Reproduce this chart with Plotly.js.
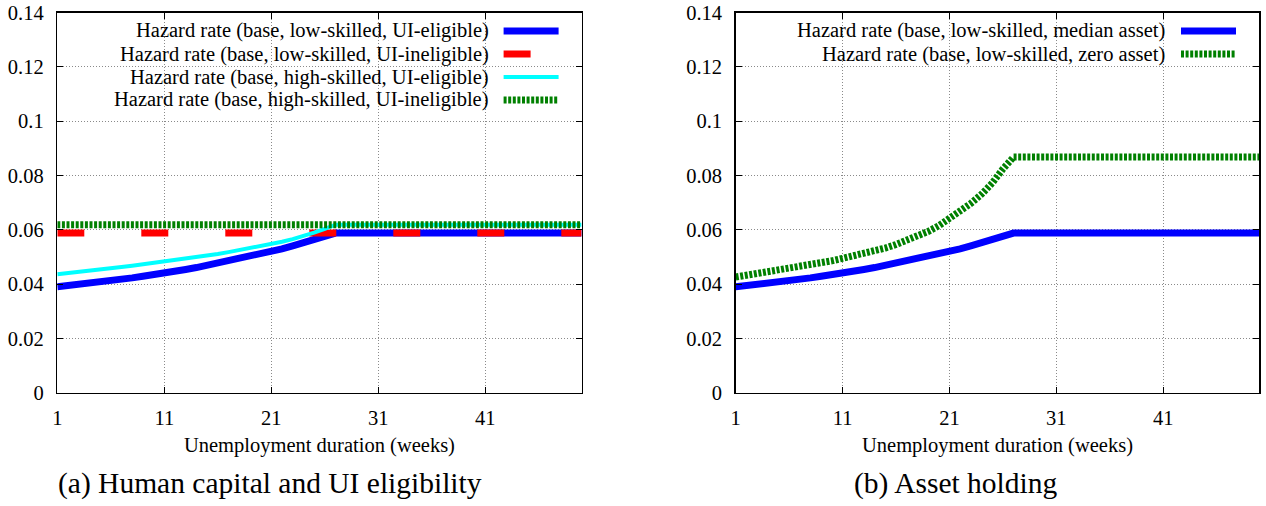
<!DOCTYPE html>
<html>
<head>
<meta charset="utf-8">
<script src="https://cdn.plot.ly/plotly-3.0.1.min.js"></script>
<style>
  html, body { margin: 0; padding: 0; background: #fff; }
  #chart { width: 1266px; height: 506px; }
  #chart text { font-family: "Liberation Serif", "Times New Roman", Times, serif !important; }
</style>
</head>
<body>
<div id="chart"></div>
<script>
// ---- data ----
const weeks = [1, 2, 3, 4, 5, 6, 7, 8, 9, 10, 11, 12, 13, 14, 15, 16, 17, 18, 19, 20, 21, 22, 23, 24, 25, 26, 27, 50];
const flatWeeks = [1, 50];

const lowEligible = [0.0390, 0.0394, 0.0399, 0.0403, 0.0408, 0.0413, 0.0418, 0.0423, 0.0429, 0.0434,
  0.0440, 0.0447, 0.0454, 0.0461, 0.0469, 0.0477, 0.0485, 0.0493, 0.0502, 0.0511,
  0.0520, 0.0530, 0.0541, 0.0553, 0.0565, 0.0577, 0.0588, 0.0588];
const lowIneligible = [0.0588, 0.0588];
const highEligible = [0.0436, 0.0440, 0.0444, 0.0449, 0.0453, 0.0458, 0.0463, 0.0468, 0.0473, 0.0478,
  0.0483, 0.0488, 0.0494, 0.0499, 0.0505, 0.0511, 0.0518, 0.0525, 0.0532, 0.0539,
  0.0547, 0.0556, 0.0566, 0.0577, 0.0590, 0.0604, 0.0619, 0.0619];
const highIneligible = [0.0619, 0.0619];

const medianAsset = lowEligible;
const zeroAsset = [0.0426, 0.0432, 0.0438, 0.0444, 0.0450, 0.0456, 0.0463, 0.0471, 0.0478, 0.0486,
  0.0495, 0.0503, 0.0512, 0.0522, 0.0533, 0.0546, 0.0560, 0.0576, 0.0594, 0.0615,
  0.0640, 0.0667, 0.0697, 0.0731, 0.0772, 0.0824, 0.0868, 0.0868];

const xTickVals = [1, 11, 21, 31, 41];
const yTickVals = [0, 0.02, 0.04, 0.06, 0.08, 0.10, 0.12, 0.14];
const yTickText = ['0', '0.02', '0.04', '0.06', '0.08', '0.1', '0.12', '0.14'];

const namesA = [
  'Hazard rate (base, low-skilled, UI-eligible)',
  'Hazard rate (base, low-skilled, UI-ineligible)',
  'Hazard rate (base, high-skilled, UI-eligible)',
  'Hazard rate (base, high-skilled, UI-ineligible)'
];
const namesB = [
  'Hazard rate (base, low-skilled, median asset)',
  'Hazard rate (base, low-skilled, zero asset)'
];
const xTitle = 'Unemployment duration (weeks)';
const captions = ['(a) Human capital and UI eligibility', '(b) Asset holding'];

// ---- styles ----
const W = 1266, H = 506;
const FONT = 'Times New Roman';
const styleA = [
  {color: '#0000ff', width: 7, dash: 'solid'},
  {color: '#ff0000', width: 7, dash: '27px,57px'},
  {color: '#00ffff', width: 4, dash: 'solid'},
  {color: '#008000', width: 7, dash: '3px,1.6px'}
];
const styleB = [
  {color: '#0000ff', width: 7, dash: 'solid'},
  {color: '#008000', width: 7, dash: '3px,1.6px'}
];

const px = v => v / W;
const py = v => 1 - v / H;

const traces = [
  {x: weeks, y: lowEligible, name: namesA[0], line: styleA[0]},
  {x: flatWeeks, y: lowIneligible, name: namesA[1], line: styleA[1]},
  {x: weeks, y: highEligible, name: namesA[2], line: styleA[2]},
  {x: flatWeeks, y: highIneligible, name: namesA[3], line: styleA[3]},
  {x: weeks, y: medianAsset, name: namesB[0], line: styleB[0], xaxis: 'x2', yaxis: 'y2'},
  {x: weeks, y: zeroAsset, name: namesB[1], line: styleB[1], xaxis: 'x2', yaxis: 'y2'}
].map(t => Object.assign({type: 'scatter', mode: 'lines', showlegend: false, hoverinfo: 'skip'}, t));

const yDom = [py(392.7), py(12.7)];
function xAxis(dom, anchor) {
  return {
    domain: dom, anchor: anchor, range: [1, 50],
    tickmode: 'array', tickvals: xTickVals,
    showgrid: true, gridcolor: '#8a8a8a', gridwidth: 1, griddash: '1px,2px',
    zeroline: false, showline: true, linecolor: '#000', linewidth: 1.5, mirror: 'allticks',
    ticks: 'inside', ticklen: 6, tickcolor: '#000', tickwidth: 1,
    tickfont: {family: FONT, size: 20.5, color: '#000'},
    ticklabelstandoff: 6,
    title: {text: xTitle, font: {family: FONT, size: 20.5, color: '#000'}, standoff: 10}
  };
}
function yAxis(anchor) {
  return {
    domain: yDom, anchor: anchor, range: [0, 0.14],
    tickmode: 'array', tickvals: yTickVals, ticktext: yTickText,
    showgrid: true, gridcolor: '#8a8a8a', gridwidth: 1, griddash: '1px,2px',
    zeroline: false, showline: true, linecolor: '#000', linewidth: 1.5, mirror: 'allticks',
    ticks: 'inside', ticklen: 6, tickcolor: '#000', tickwidth: 1,
    tickfont: {family: FONT, size: 20.5, color: '#000'},
    ticklabelstandoff: 8
  };
}

// legend (text on the left, key on the right, as in the reference)
const rowsY = [31, 54, 77, 100];
const annotations = [];
const shapes = [];
function addLegend(names, styles, textRight, keyX0, keyX1) {
  names.forEach((n, i) => {
    annotations.push({xref: 'paper', yref: 'paper', x: px(textRight), y: py(rowsY[i]),
      xanchor: 'right', yanchor: 'middle', showarrow: false, text: n,
      font: {family: FONT, size: 20.5, color: '#000'}});
    shapes.push({type: 'line', xref: 'paper', yref: 'paper',
      x0: px(keyX0), x1: px(keyX1), y0: py(rowsY[i]), y1: py(rowsY[i]),
      line: {color: styles[i].color, width: styles[i].width, dash: styles[i].dash}});
  });
}
addLegend(namesA, styleA, 491, 503.6, 558.6);
addLegend(namesB, styleB, 1167, 1181, 1236);

annotations.push({xref: 'paper', yref: 'paper', x: px(270), y: py(483), xanchor: 'center', yanchor: 'middle',
  showarrow: false, text: captions[0], font: {family: FONT, size: 29.5, color: '#000'}});
annotations.push({xref: 'paper', yref: 'paper', x: px(956), y: py(483), xanchor: 'center', yanchor: 'middle',
  showarrow: false, text: captions[1], font: {family: FONT, size: 29.5, color: '#000'}});

const layout = {
  width: W, height: H,
  margin: {l: 0, r: 0, t: 0, b: 0},
  paper_bgcolor: '#fff', plot_bgcolor: '#fff',
  font: {family: FONT, color: '#000'},
  xaxis: xAxis([px(57.3), px(581.6)], 'y'),
  yaxis: yAxis('x'),
  xaxis2: xAxis([px(735.7), px(1259.3)], 'y2'),
  yaxis2: yAxis('x2'),
  annotations: annotations,
  shapes: shapes,
  showlegend: false
};

Plotly.newPlot('chart', traces, layout, {staticPlot: true, displayModeBar: false});
</script>
</body>
</html>
